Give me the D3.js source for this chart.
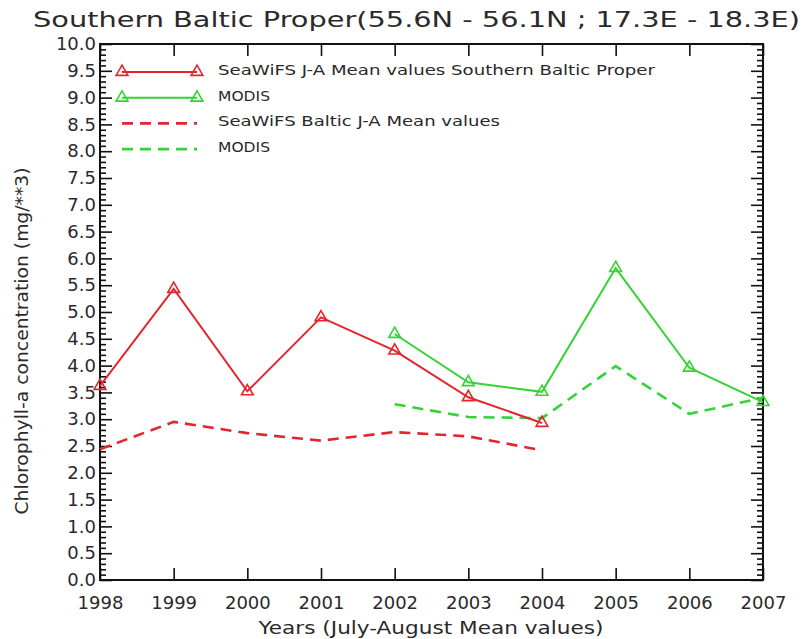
<!DOCTYPE html>
<html>
<head>
<meta charset="utf-8">
<script src="https://cdn.jsdelivr.net/npm/d3@7"></script>
<style>
  html, body { margin: 0; padding: 0; background: #fff; }
  svg { display: block; }
  text { font-family: "DejaVu Sans", "Liberation Sans", sans-serif; fill: #2a2a2a; }
</style>
</head>
<body>
<svg id="chart" width="805" height="639"></svg>
<script>
// July–August mean chlorophyll-a, Southern Baltic Proper
const years = [1998, 1999, 2000, 2001, 2002, 2003, 2004, 2005, 2006, 2007];
const seawifsYears = [1998, 1999, 2000, 2001, 2002, 2003, 2004];
const modisYears = [2002, 2003, 2004, 2005, 2006, 2007];

const seawifsSBP = [3.62, 5.43, 3.52, 4.9, 4.28, 3.41, 2.93];
const modisSBP = [4.59, 3.69, 3.51, 5.82, 3.96, 3.32];
const seawifsBaltic = [2.44, 2.95, 2.74, 2.6, 2.76, 2.68, 2.42];
const modisBaltic = [3.28, 3.04, 3.02, 3.99, 3.1, 3.4];

const yMajorTicks = d3.range(0, 10.001, 0.5);
const yMinorTicks = d3.range(0, 10.001, 0.1).filter(v => Math.abs(v * 2 - Math.round(v * 2)) > 1e-6);

const legendLabels = [
  "SeaWiFS J-A Mean values Southern Baltic Proper",
  "MODIS",
  "SeaWiFS Baltic J-A Mean values",
  "MODIS"
];

const RED = "#e2262e";
const GREEN = "#35d335";

const svg = d3.select("#chart");
const plotLeft = 100, plotRight = 763, plotTop = 44, plotBottom = 580;

const x = d3.scaleLinear().domain([1998, 2007]).range([plotLeft, plotRight]);
const y = d3.scaleLinear().domain([0, 10]).range([plotBottom, plotTop]);

// Title
svg.append("text")
  .attr("x", 33).attr("y", 27)
  .attr("font-size", 21)
  .attr("textLength", 767)
  .attr("lengthAdjust", "spacingAndGlyphs")
  .text("Southern Baltic Proper(55.6N - 56.1N ; 17.3E - 18.3E)");

// Axes
const axisStyle = g => {
  g.select(".domain").remove();
  g.selectAll(".tick line").attr("stroke", "#111").attr("stroke-width", 1.6);
  g.selectAll(".tick text").attr("font-size", 18).attr("fill", "#2a2a2a")
    .attr("font-family", "DejaVu Sans, sans-serif");
};

// left: major + minor
svg.append("g").attr("transform", `translate(${plotLeft},0)`)
  .call(d3.axisLeft(y).tickValues(yMajorTicks).tickSize(-12).tickPadding(4).tickFormat(d3.format(".1f")))
  .call(axisStyle);
svg.append("g").attr("transform", `translate(${plotLeft},0)`)
  .call(d3.axisLeft(y).tickValues(yMinorTicks).tickSize(-6).tickFormat(""))
  .call(axisStyle);

// right: ticks only
svg.append("g").attr("transform", `translate(${plotRight},0)`)
  .call(d3.axisRight(y).tickValues(yMajorTicks).tickSize(-12).tickFormat(""))
  .call(axisStyle);
svg.append("g").attr("transform", `translate(${plotRight},0)`)
  .call(d3.axisRight(y).tickValues(yMinorTicks).tickSize(-6).tickFormat(""))
  .call(axisStyle);

// bottom with year labels
svg.append("g").attr("transform", `translate(0,${plotBottom})`)
  .call(d3.axisBottom(x).tickValues(years).tickSize(-12).tickPadding(16).tickFormat(d3.format("d")))
  .call(axisStyle);
// top ticks only
svg.append("g").attr("transform", `translate(0,${plotTop})`)
  .call(d3.axisTop(x).tickValues(years).tickSize(-12).tickFormat(""))
  .call(axisStyle);

// Frame
svg.append("rect")
  .attr("x", plotLeft).attr("y", plotTop)
  .attr("width", plotRight - plotLeft).attr("height", plotBottom - plotTop)
  .attr("fill", "none").attr("stroke", "#111").attr("stroke-width", 2);

// Axis titles
svg.append("text")
  .attr("x", 431).attr("y", 634)
  .attr("text-anchor", "middle")
  .attr("font-size", 17)
  .attr("textLength", 345)
  .attr("lengthAdjust", "spacingAndGlyphs")
  .text("Years (July-August Mean values)");

svg.append("text")
  .attr("transform", "translate(28,341) rotate(-90)")
  .attr("text-anchor", "middle")
  .attr("font-size", 17)
  .attr("textLength", 347)
  .attr("lengthAdjust", "spacingAndGlyphs")
  .text("Chlorophyll-a concentration (mg/**3)");

// Series
const line = d3.line().x(d => x(d[0])).y(d => y(d[1]));
const tri = d3.symbol(d3.symbolTriangle, 60);

function drawSeries(yrs, vals, color, dashed, markers) {
  const pts = yrs.map((yr, i) => [yr, vals[i]]);
  svg.append("path")
    .datum(pts)
    .attr("d", line)
    .attr("fill", "none")
    .attr("stroke", color)
    .attr("stroke-width", dashed ? 2.6 : 2)
    .attr("stroke-dasharray", dashed ? "11,7" : null);
  if (markers) {
    svg.append("g").selectAll("path")
      .data(pts)
      .join("path")
      .attr("transform", d => `translate(${x(d[0])},${y(d[1])})`)
      .attr("d", tri)
      .attr("fill", "none")
      .attr("stroke", color)
      .attr("stroke-width", 1.6);
  }
}

drawSeries(seawifsYears, seawifsBaltic, RED, true, false);
drawSeries(modisYears, modisBaltic, GREEN, true, false);
drawSeries(seawifsYears, seawifsSBP, RED, false, true);
drawSeries(modisYears, modisSBP, GREEN, false, true);

// Legend
const legendRows = [
  { label: legendLabels[0], color: RED, dashed: false, len: 437 },
  { label: legendLabels[1], color: GREEN, dashed: false, len: 52 },
  { label: legendLabels[2], color: RED, dashed: true, len: 282 },
  { label: legendLabels[3], color: GREEN, dashed: true, len: 52 }
];
const legend = svg.append("g");
legendRows.forEach((r, i) => {
  const ly = 72 + i * 25.7;
  legend.append("line")
    .attr("x1", 122).attr("x2", 197)
    .attr("y1", ly).attr("y2", ly)
    .attr("stroke", r.color)
    .attr("stroke-width", r.dashed ? 2.6 : 2)
    .attr("stroke-dasharray", r.dashed ? "11,7" : null);
  if (!r.dashed) {
    [122, 197].forEach(lx => {
      legend.append("path")
        .attr("transform", `translate(${lx},${ly})`)
        .attr("d", tri)
        .attr("fill", "none")
        .attr("stroke", r.color)
        .attr("stroke-width", 1.6);
    });
  }
  legend.append("text")
    .attr("x", 218).attr("y", ly - 1)
    .attr("dominant-baseline", "middle")
    .attr("font-size", 14)
    .attr("textLength", r.len)
    .attr("lengthAdjust", "spacingAndGlyphs")
    .text(r.label);
});
</script>
</body>
</html>
